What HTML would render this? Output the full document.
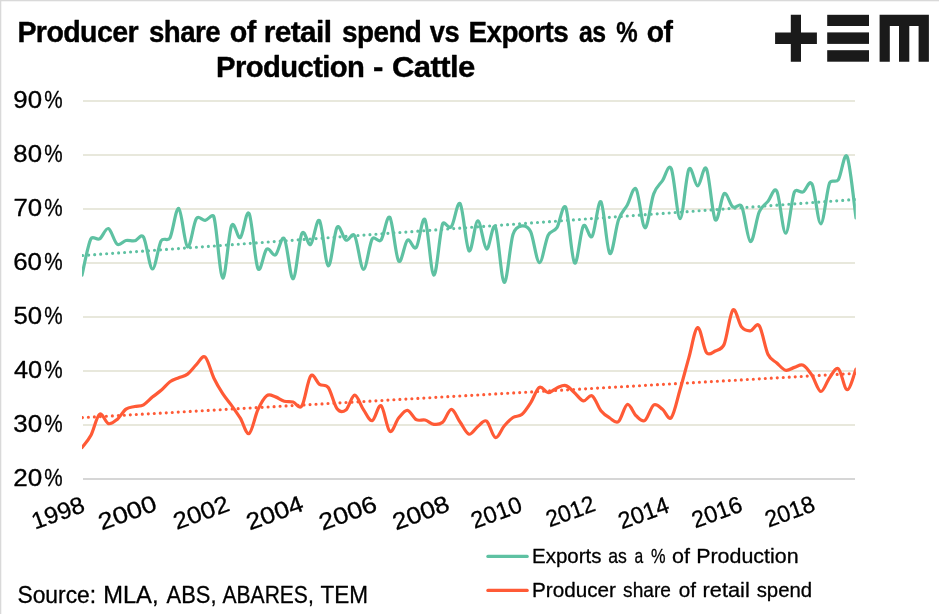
<!DOCTYPE html>
<html><head><meta charset="utf-8"><title>Producer share of retail spend vs Exports as % of Production - Cattle</title>
<style>html,body{margin:0;padding:0;background:#fff;}svg{display:block;will-change:transform;font-family:"Liberation Sans",sans-serif;}</style></head><body>
<svg width="939" height="614" viewBox="0 0 939 614">
<rect x="0" y="0" width="939" height="614" fill="#ffffff"/>
<rect x="0" y="0" width="939" height="1.3" fill="#d9d9d9"/>
<rect x="0" y="0" width="1.3" height="614" fill="#d9d9d9"/>
<g fill="#1a1a1a">
<path d="M790.8 14.8H801V32.4H816.9V43.9H801V61.7H790.8V43.9H775.1V32.4H790.8Z"/>
<rect x="827.2" y="14.8" width="41.8" height="11.2"/>
<rect x="827.2" y="32.4" width="41.8" height="11.5"/>
<rect x="827.2" y="50.2" width="41.8" height="11.5"/>
<path d="M879.6 14.8H928.9V61.7H918.6V26H909.3V61.7H899V26H889.8V61.7H879.6Z"/>
</g>
<rect x="83" y="100" width="772" height="2" fill="#e8e8dc"/>
<rect x="83" y="154" width="772" height="2" fill="#e8e8dc"/>
<rect x="83" y="208" width="772" height="2" fill="#e8e8dc"/>
<rect x="83" y="262" width="772" height="2" fill="#e8e8dc"/>
<rect x="83" y="316" width="772" height="2" fill="#e8e8dc"/>
<rect x="83" y="370" width="772" height="2" fill="#e8e8dc"/>
<rect x="83" y="424" width="772" height="2" fill="#e8e8dc"/>
<rect x="83" y="478" width="772" height="2" fill="#d6d6d6"/>
<g fill="#000000" stroke="#000000" stroke-linejoin="round">
<text x="17.38" y="42.0" font-size="29.4" font-weight="bold" letter-spacing="-0.6" stroke-width="0.38" textLength="120.74" lengthAdjust="spacingAndGlyphs">Producer</text>
<text x="149.02" y="42.0" font-size="29.4" font-weight="bold" letter-spacing="-0.6" stroke-width="0.38" textLength="70.97" lengthAdjust="spacingAndGlyphs">share</text>
<text x="229.84" y="42.0" font-size="29.4" font-weight="bold" letter-spacing="-0.6" stroke-width="0.38" textLength="25.86" lengthAdjust="spacingAndGlyphs">of</text>
<text x="263.75" y="42.0" font-size="29.4" font-weight="bold" letter-spacing="-0.6" stroke-width="0.38" textLength="67.61" lengthAdjust="spacingAndGlyphs">retail</text>
<text x="342.11" y="42.0" font-size="29.4" font-weight="bold" letter-spacing="-0.6" stroke-width="0.38" textLength="79.22" lengthAdjust="spacingAndGlyphs">spend</text>
<text x="429.84" y="42.0" font-size="29.4" font-weight="bold" letter-spacing="-0.6" stroke-width="0.38" textLength="29.22" lengthAdjust="spacingAndGlyphs">vs</text>
<text x="468.50" y="42.0" font-size="29.4" font-weight="bold" letter-spacing="-0.6" stroke-width="0.38" textLength="99.69" lengthAdjust="spacingAndGlyphs">Exports</text>
<text x="578.94" y="42.0" font-size="29.4" font-weight="bold" letter-spacing="-0.6" stroke-width="0.38" textLength="26.60" lengthAdjust="spacingAndGlyphs">as</text>
<text x="616.25" y="42.0" font-size="29.4" font-weight="bold" letter-spacing="-0.6" stroke-width="0.38" textLength="20.91" lengthAdjust="spacingAndGlyphs">%</text>
<text x="646.86" y="42.0" font-size="29.4" font-weight="bold" letter-spacing="-0.6" stroke-width="0.38" textLength="25.56" lengthAdjust="spacingAndGlyphs">of</text>
<text x="216.10" y="77.0" font-size="29.4" font-weight="bold" letter-spacing="-0.6" stroke-width="0.38" textLength="148.23" lengthAdjust="spacingAndGlyphs">Production</text>
<text x="373.06" y="77.0" font-size="29.4" font-weight="bold" letter-spacing="-0.6" stroke-width="0.38" textLength="9.75" lengthAdjust="spacingAndGlyphs">-</text>
<text x="392.05" y="77.0" font-size="29.4" font-weight="bold" letter-spacing="-0.6" stroke-width="0.38" textLength="82.55" lengthAdjust="spacingAndGlyphs">Cattle</text>
<text x="532.09" y="562.8" font-size="21.0" stroke-width="0.3" textLength="69.44" lengthAdjust="spacingAndGlyphs">Exports</text>
<text x="608.33" y="562.8" font-size="21.0" stroke-width="0.3" textLength="18.61" lengthAdjust="spacingAndGlyphs">as</text>
<text x="634.43" y="562.8" font-size="21.0" stroke-width="0.3" textLength="8.70" lengthAdjust="spacingAndGlyphs">a</text>
<text x="650.94" y="562.8" font-size="21.0" stroke-width="0.3" textLength="14.55" lengthAdjust="spacingAndGlyphs">%</text>
<text x="672.14" y="562.8" font-size="21.0" stroke-width="0.3" textLength="17.96" lengthAdjust="spacingAndGlyphs">of</text>
<text x="696.16" y="562.8" font-size="21.0" stroke-width="0.3" textLength="102.43" lengthAdjust="spacingAndGlyphs">Production</text>
<text x="532.00" y="597.0" font-size="21.0" stroke-width="0.3" textLength="83.95" lengthAdjust="spacingAndGlyphs">Producer</text>
<text x="623.08" y="597.0" font-size="21.0" stroke-width="0.3" textLength="47.82" lengthAdjust="spacingAndGlyphs">share</text>
<text x="678.63" y="597.0" font-size="21.0" stroke-width="0.3" textLength="17.26" lengthAdjust="spacingAndGlyphs">of</text>
<text x="702.59" y="597.0" font-size="21.0" stroke-width="0.3" textLength="47.23" lengthAdjust="spacingAndGlyphs">retail</text>
<text x="756.69" y="597.0" font-size="21.0" stroke-width="0.3" textLength="55.50" lengthAdjust="spacingAndGlyphs">spend</text>
<text x="17.44" y="602.8" font-size="23.7" stroke-width="0.3" textLength="78.72" lengthAdjust="spacingAndGlyphs">Source:</text>
<text x="103.20" y="602.8" font-size="23.7" stroke-width="0.3" textLength="55.35" lengthAdjust="spacingAndGlyphs">MLA,</text>
<text x="166.58" y="602.8" font-size="23.7" stroke-width="0.3" textLength="49.89" lengthAdjust="spacingAndGlyphs">ABS,</text>
<text x="222.54" y="602.8" font-size="23.7" stroke-width="0.3" textLength="91.22" lengthAdjust="spacingAndGlyphs">ABARES,</text>
<text x="320.46" y="602.8" font-size="23.7" stroke-width="0.3" textLength="47.56" lengthAdjust="spacingAndGlyphs">TEM</text>
<text x="13.30" y="108.3" font-size="23.6" stroke-width="0.3" textLength="28.74" lengthAdjust="spacingAndGlyphs">90</text>
<text x="44.37" y="108.3" font-size="23.6" stroke-width="0.3" textLength="18.38" lengthAdjust="spacingAndGlyphs">%</text>
<text x="13.37" y="162.3" font-size="23.6" stroke-width="0.3" textLength="28.64" lengthAdjust="spacingAndGlyphs">80</text>
<text x="44.37" y="162.3" font-size="23.6" stroke-width="0.3" textLength="18.38" lengthAdjust="spacingAndGlyphs">%</text>
<text x="13.41" y="216.3" font-size="23.6" stroke-width="0.3" textLength="28.68" lengthAdjust="spacingAndGlyphs">70</text>
<text x="44.37" y="216.3" font-size="23.6" stroke-width="0.3" textLength="18.38" lengthAdjust="spacingAndGlyphs">%</text>
<text x="13.19" y="270.3" font-size="23.6" stroke-width="0.3" textLength="28.79" lengthAdjust="spacingAndGlyphs">60</text>
<text x="44.37" y="270.3" font-size="23.6" stroke-width="0.3" textLength="18.38" lengthAdjust="spacingAndGlyphs">%</text>
<text x="13.45" y="324.3" font-size="23.6" stroke-width="0.3" textLength="28.61" lengthAdjust="spacingAndGlyphs">50</text>
<text x="44.37" y="324.3" font-size="23.6" stroke-width="0.3" textLength="18.38" lengthAdjust="spacingAndGlyphs">%</text>
<text x="14.02" y="378.3" font-size="23.6" stroke-width="0.3" textLength="28.16" lengthAdjust="spacingAndGlyphs">40</text>
<text x="44.37" y="378.3" font-size="23.6" stroke-width="0.3" textLength="18.38" lengthAdjust="spacingAndGlyphs">%</text>
<text x="13.24" y="432.3" font-size="23.6" stroke-width="0.3" textLength="28.89" lengthAdjust="spacingAndGlyphs">30</text>
<text x="44.37" y="432.3" font-size="23.6" stroke-width="0.3" textLength="18.38" lengthAdjust="spacingAndGlyphs">%</text>
<text x="13.18" y="486.3" font-size="23.6" stroke-width="0.3" textLength="28.96" lengthAdjust="spacingAndGlyphs">20</text>
<text x="44.37" y="486.3" font-size="23.6" stroke-width="0.3" textLength="18.38" lengthAdjust="spacingAndGlyphs">%</text>
</g>
<g font-size="23.6" fill="#000000" text-anchor="end">
<text transform="translate(86.30 511.10) rotate(-20)" stroke="#000000" stroke-width="0.3" textLength="54.63" lengthAdjust="spacingAndGlyphs">1998</text>
<text transform="translate(158.37 509.90) rotate(-20)" stroke="#000000" stroke-width="0.3" textLength="60.25" lengthAdjust="spacingAndGlyphs">2000</text>
<text transform="translate(230.94 510.30) rotate(-20)" stroke="#000000" stroke-width="0.3" textLength="57.63" lengthAdjust="spacingAndGlyphs">2002</text>
<text transform="translate(305.01 510.30) rotate(-20)" stroke="#000000" stroke-width="0.3" textLength="58.79" lengthAdjust="spacingAndGlyphs">2004</text>
<text transform="translate(378.58 510.30) rotate(-20)" stroke="#000000" stroke-width="0.3" textLength="59.75" lengthAdjust="spacingAndGlyphs">2006</text>
<text transform="translate(451.15 510.30) rotate(-20)" stroke="#000000" stroke-width="0.3" textLength="58.79" lengthAdjust="spacingAndGlyphs">2008</text>
<text transform="translate(523.72 511.10) rotate(-20)" stroke="#000000" stroke-width="0.3" textLength="52.29" lengthAdjust="spacingAndGlyphs">2010</text>
<text transform="translate(596.79 510.30) rotate(-20)" stroke="#000000" stroke-width="0.3" textLength="50.35" lengthAdjust="spacingAndGlyphs">2012</text>
<text transform="translate(670.86 511.50) rotate(-20)" stroke="#000000" stroke-width="0.3" textLength="52.27" lengthAdjust="spacingAndGlyphs">2014</text>
<text transform="translate(743.93 510.70) rotate(-20)" stroke="#000000" stroke-width="0.3" textLength="51.79" lengthAdjust="spacingAndGlyphs">2016</text>
<text transform="translate(816.50 510.30) rotate(-20)" stroke="#000000" stroke-width="0.3" textLength="51.19" lengthAdjust="spacingAndGlyphs">2018</text>
</g>
<defs><clipPath id="pc"><rect x="82" y="90" width="773.8" height="400"/></clipPath></defs>
<g clip-path="url(#pc)" fill="none" stroke-linecap="round" stroke-linejoin="round">
<path d="M82.7 255.5L856.7 199.36" stroke="#5ec1a2" stroke-width="3.15" stroke-dasharray="0 6"/>
<path d="M82.4 417.6L856.4 373.3" stroke="#ff5a36" stroke-width="3.15" stroke-dasharray="0 6"/>
<path d="M82.00 275.00C83.47 268.99 87.86 244.96 90.80 238.94C92.72 234.99 96.66 240.59 99.59 238.86C102.52 237.13 105.45 227.66 108.39 228.56C111.32 229.46 114.25 242.24 117.18 244.24C120.11 246.24 123.05 241.13 125.98 240.55C128.91 239.97 131.84 241.34 134.77 240.75C137.70 240.16 141.04 232.98 143.57 237.03C146.50 241.74 149.43 268.37 152.36 269.00C155.30 269.63 158.23 246.01 161.16 240.83C163.44 236.80 167.74 242.01 169.95 237.95C172.89 232.57 175.82 207.07 178.75 208.55C181.68 210.03 184.61 245.15 187.55 246.83C190.48 248.52 193.41 223.06 196.34 218.66C198.82 214.93 202.20 220.68 205.14 220.40C208.07 220.12 212.56 212.50 213.93 217.01C216.86 226.61 219.80 276.55 222.73 278.00C225.66 279.45 228.59 232.48 231.52 225.74C234.45 219.00 237.39 239.59 240.32 237.56C243.25 235.53 246.18 208.40 249.11 213.55C252.05 218.70 254.98 262.51 257.91 268.44C260.84 274.37 263.77 251.36 266.70 249.12C269.64 246.88 272.57 256.74 275.50 254.99C278.43 253.25 281.36 234.68 284.30 238.65C287.23 242.62 290.16 279.68 293.09 278.80C296.02 277.92 298.95 239.11 301.89 233.38C304.82 227.65 307.75 246.57 310.68 244.44C313.61 242.31 316.55 217.04 319.48 220.62C322.41 224.20 325.34 264.78 328.27 265.90C331.20 267.02 334.14 231.63 337.07 227.34C340.00 223.05 342.93 238.77 345.86 240.17C348.80 241.57 352.11 231.52 354.66 235.74C357.59 240.60 360.52 268.77 363.45 269.30C366.39 269.83 369.32 243.78 372.25 238.91C374.54 235.11 378.24 243.50 381.05 240.06C383.98 236.47 386.91 213.86 389.84 217.36C392.77 220.86 395.70 257.27 398.64 261.07C401.57 264.87 404.50 242.42 407.43 240.16C410.36 237.90 413.30 250.95 416.23 247.52C419.16 244.09 422.09 214.98 425.02 219.58C427.95 224.18 430.89 274.39 433.82 275.10C436.75 275.81 439.68 231.95 442.61 223.87C444.19 219.54 448.48 229.98 451.41 226.63C454.34 223.28 457.27 199.73 460.20 203.76C463.14 207.79 466.07 247.98 469.00 250.82C471.93 253.66 474.86 221.10 477.80 220.80C480.73 220.50 483.66 247.98 486.59 249.00C489.52 250.02 492.45 221.35 495.39 226.92C498.32 232.49 501.25 281.15 504.18 282.40C507.11 283.65 510.05 243.84 512.98 234.42C514.80 228.57 518.84 226.38 521.77 225.89C524.70 225.40 528.32 226.77 530.57 231.47C533.50 237.59 536.43 261.98 539.36 262.60C542.30 263.22 545.23 241.02 548.16 235.20C550.76 230.03 554.02 232.28 556.95 227.66C559.89 223.04 562.82 201.62 565.75 207.51C568.68 213.40 571.61 259.94 574.55 263.01C577.48 266.08 580.41 230.41 583.34 225.96C586.27 221.52 589.20 240.37 592.14 236.34C595.07 232.31 598.00 198.93 600.93 201.77C603.86 204.61 606.80 250.39 609.73 253.39C612.66 256.38 615.59 227.81 618.52 219.74C621.45 211.67 624.39 210.06 627.32 204.96C630.25 199.86 633.18 185.31 636.11 189.12C639.05 192.93 641.98 227.01 644.91 227.80C647.84 228.59 650.77 201.71 653.70 193.85C656.48 186.42 659.57 184.85 662.50 180.66C665.43 176.47 668.36 162.37 671.30 168.71C674.23 175.05 677.16 218.59 680.09 218.70C683.02 218.81 685.95 174.83 688.89 169.36C691.82 163.89 694.75 185.98 697.68 185.90C700.61 185.82 703.55 163.25 706.48 168.90C709.41 174.55 712.34 215.69 715.27 219.81C718.20 223.93 721.14 195.78 724.07 193.63C727.00 191.47 729.93 204.77 732.86 206.88C735.80 208.99 739.67 202.34 741.66 206.27C744.59 212.06 747.52 240.65 750.45 241.60C753.39 242.55 756.32 218.69 759.25 211.97C762.02 205.63 765.11 204.75 768.05 201.29C770.98 197.83 773.91 185.92 776.84 191.24C779.77 196.56 782.70 233.08 785.64 233.20C788.57 233.32 791.50 198.84 794.43 191.95C796.15 187.90 800.30 193.20 803.23 191.88C806.16 190.56 809.17 178.83 812.02 184.00C814.95 189.32 817.89 223.97 820.82 223.80C823.75 223.63 826.68 190.32 829.61 182.96C831.35 178.59 835.79 183.54 838.41 179.64C841.34 175.27 844.27 150.34 847.20 156.73C850.14 163.12 854.53 207.79 856.00 218.00" stroke="#5ec1a2" stroke-width="3.2"/>
<path d="M82.00 447.60C83.47 445.60 87.86 441.17 90.80 435.60C93.73 430.03 96.66 416.20 99.59 414.20C102.52 412.20 105.45 422.73 108.39 423.60C111.32 424.47 114.25 421.82 117.18 419.40C120.11 416.98 123.05 411.25 125.98 409.10C128.91 406.95 131.84 407.22 134.77 406.50C137.70 405.78 140.64 406.37 143.57 404.80C146.50 403.23 149.43 399.52 152.36 397.10C155.30 394.68 158.23 392.85 161.16 390.30C164.09 387.75 167.02 383.88 169.95 381.80C172.89 379.72 175.82 379.08 178.75 377.80C181.68 376.52 184.61 376.28 187.55 374.10C190.48 371.92 193.41 367.55 196.34 364.70C199.27 361.85 202.20 354.73 205.14 357.00C208.07 359.27 211.00 372.18 213.93 378.30C216.86 384.42 219.80 389.18 222.73 393.70C225.66 398.22 228.59 401.32 231.52 405.40C234.45 409.48 237.39 413.50 240.32 418.20C243.25 422.90 246.18 435.02 249.11 433.60C252.05 432.18 254.98 416.02 257.91 409.70C260.84 403.38 263.77 397.83 266.70 395.70C269.64 393.57 272.57 395.98 275.50 396.90C278.43 397.82 281.36 400.35 284.30 401.20C287.23 402.05 290.16 401.22 293.09 402.00C296.02 402.78 299.20 409.89 301.89 405.90C304.82 401.55 307.75 379.48 310.68 375.90C313.61 372.32 316.55 382.47 319.48 384.40C322.41 386.33 325.55 383.72 328.27 387.50C331.20 391.57 334.14 405.05 337.07 408.80C339.80 412.30 342.93 412.27 345.86 410.00C348.80 407.73 351.73 395.27 354.66 395.20C357.59 395.13 360.52 405.37 363.45 409.60C366.39 413.83 369.32 421.25 372.25 420.60C375.18 419.95 378.11 403.92 381.05 405.70C383.98 407.48 386.91 429.25 389.84 431.30C392.77 433.35 395.70 421.50 398.64 418.00C401.57 414.50 404.50 410.02 407.43 410.30C410.36 410.58 413.30 418.08 416.23 419.70C419.16 421.32 422.09 419.23 425.02 420.00C427.95 420.77 430.89 423.92 433.82 424.30C436.75 424.68 439.68 424.78 442.61 422.30C445.55 419.82 448.48 409.40 451.41 409.40C454.34 409.40 457.27 418.17 460.20 422.30C463.14 426.43 466.07 433.50 469.00 434.20C471.93 434.90 474.86 428.68 477.80 426.50C480.73 424.32 483.66 419.27 486.59 421.10C489.52 422.93 492.45 436.68 495.39 437.50C498.32 438.32 501.25 429.33 504.18 426.00C507.11 422.67 510.05 419.40 512.98 417.50C515.91 415.60 518.84 417.02 521.77 414.60C524.70 412.18 527.64 407.55 530.57 403.00C533.50 398.45 536.43 389.02 539.36 387.30C542.30 385.58 545.23 392.60 548.16 392.70C551.09 392.80 554.02 389.08 556.95 387.90C559.89 386.72 562.82 384.80 565.75 385.60C568.68 386.40 571.61 390.15 574.55 392.70C577.48 395.25 580.41 400.38 583.34 400.90C586.27 401.42 589.20 394.17 592.14 395.80C595.07 397.43 598.00 407.00 600.93 410.70C603.86 414.40 606.80 416.20 609.73 418.00C612.66 419.80 615.59 423.75 618.52 421.50C621.45 419.25 624.39 405.45 627.32 404.50C630.25 403.55 633.18 413.13 636.11 415.80C639.05 418.47 641.98 422.30 644.91 420.50C647.84 418.70 650.77 406.87 653.70 405.00C656.64 403.13 659.57 407.20 662.50 409.30C665.43 411.40 668.36 420.90 671.30 417.60C674.23 414.30 677.16 399.50 680.09 389.50C683.02 379.50 685.95 367.93 688.89 357.60C691.82 347.27 694.75 328.33 697.68 327.50C700.61 326.67 703.55 348.68 706.48 352.60C709.16 356.18 712.34 352.35 715.27 351.00C718.20 349.65 721.91 349.53 724.07 344.50C727.00 337.67 729.93 312.92 732.86 310.00C735.80 307.08 738.73 323.53 741.66 327.00C744.59 330.47 747.52 331.00 750.45 330.80C753.39 330.60 756.32 321.85 759.25 325.80C762.18 329.75 765.11 348.30 768.05 354.50C770.66 360.03 773.91 360.37 776.84 363.00C779.77 365.63 782.70 369.57 785.64 370.30C788.57 371.03 791.50 368.25 794.43 367.40C797.36 366.55 800.30 363.87 803.23 365.20C806.16 366.53 809.09 371.02 812.02 375.40C814.95 379.78 817.89 391.12 820.82 391.50C823.75 391.88 826.68 381.48 829.61 377.70C832.55 373.92 835.48 366.80 838.41 368.80C841.34 370.80 844.27 389.65 847.20 389.70C850.14 389.75 854.53 372.53 856.00 369.10" stroke="#ff5a36" stroke-width="3.2"/>
</g>
<g fill="none" stroke-linecap="round" stroke-width="3.2">
<path d="M487.9 556.4H527.2" stroke="#5ec1a2"/>
<path d="M487.9 590.4H527.2" stroke="#ff5a36"/>
</g>
</svg></body></html>
